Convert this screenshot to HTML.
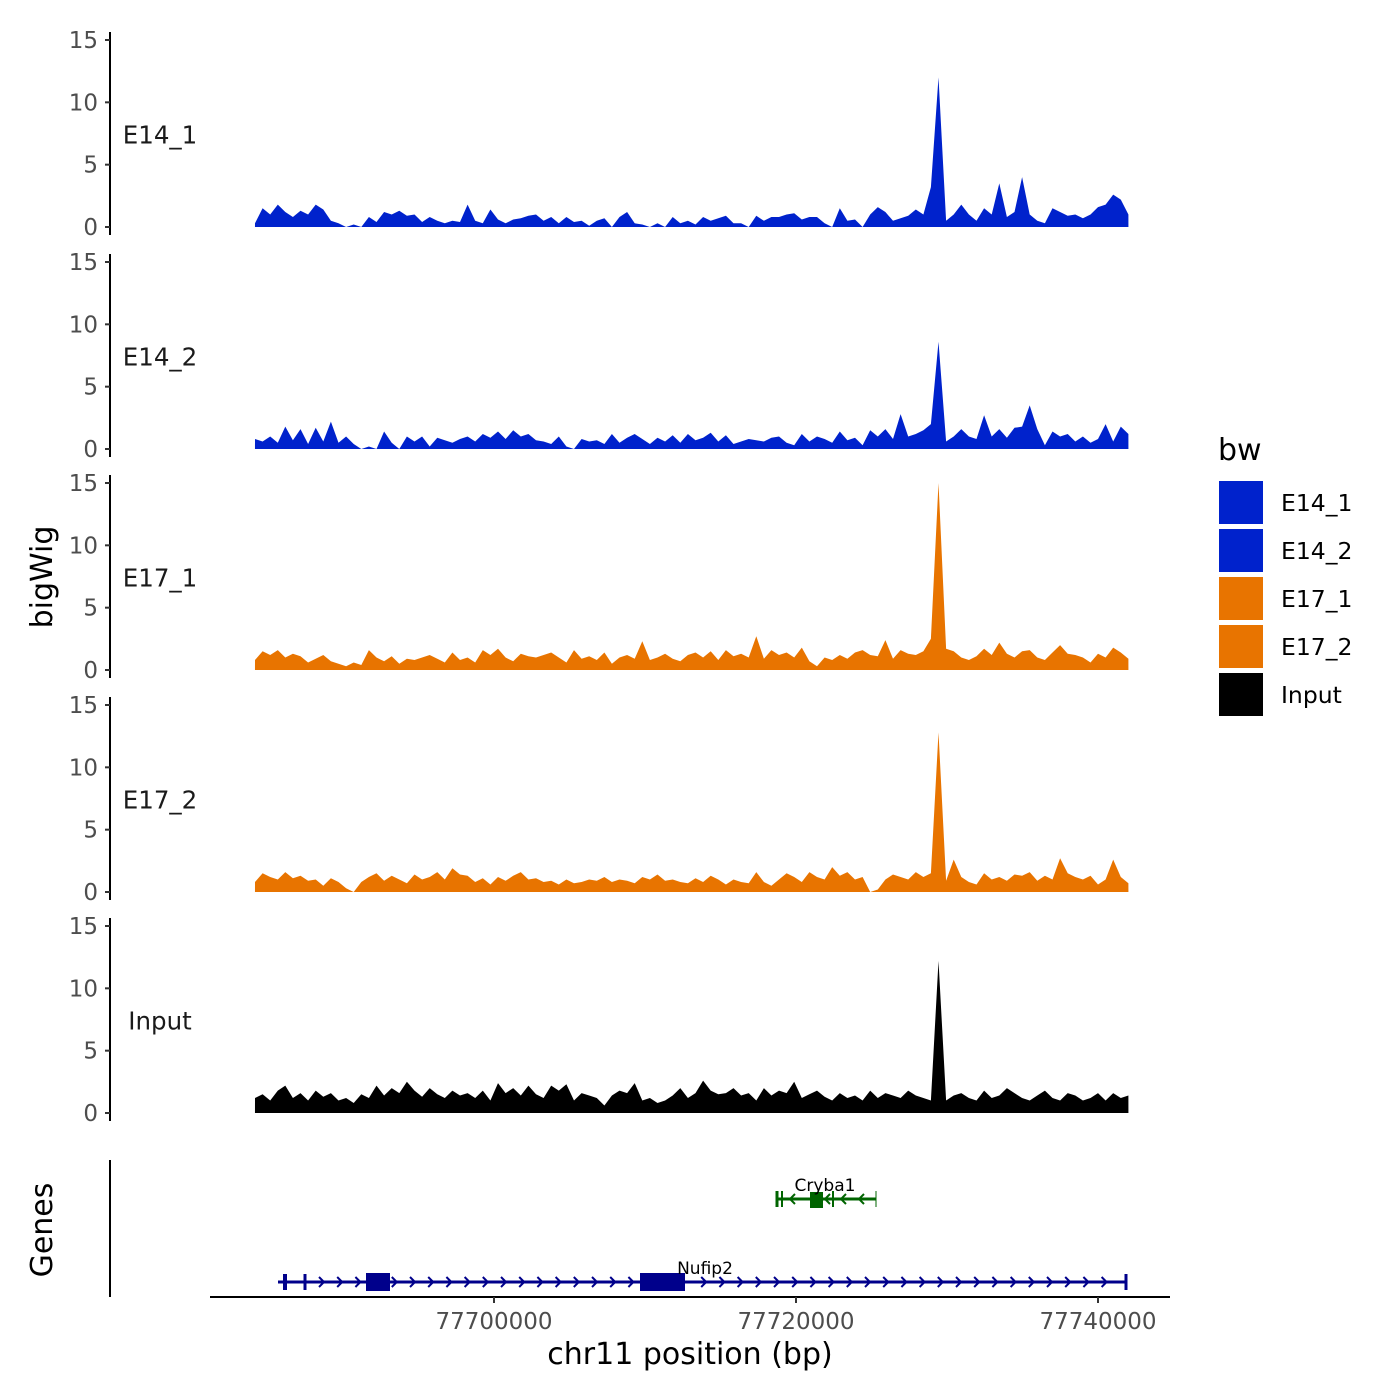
<!DOCTYPE html>
<html><head><meta charset="utf-8"><style>
body{margin:0;background:#fff}
svg{display:block;font-family:"DejaVu Sans","Liberation Sans",sans-serif}
</style></head><body>
<svg id="c" width="1400" height="1400" viewBox="0 0 1400 1400"></svg>
<script>
const trackNames=["E14_1","E14_2","E17_1","E17_2","Input"];
const trackColors=["#0022CC","#0022CC","#E87400","#E87400","#000000"];
const binStart=77684170, binSize=503;
const e14_1=[0.3,1.5,1.0,1.8,1.2,0.8,1.3,1.0,1.8,1.4,0.5,0.3,0,0.2,0,0.8,0.4,1.2,1.0,1.3,0.9,1.0,0.4,0.8,0.5,0.3,0.5,0.4,1.8,0.5,0.3,1.4,0.6,0.3,0.6,0.7,0.9,1.0,0.5,0.8,0.3,0.8,0.4,0.5,0.1,0.5,0.7,0,0.8,1.2,0.3,0.2,0,0.3,0,0.8,0.3,0.5,0.2,0.8,0.5,0.7,0.9,0.3,0.3,0,0.9,0.5,0.8,0.8,1.0,1.1,0.6,0.8,0.8,0.3,0,1.5,0.5,0.6,0,1.0,1.6,1.2,0.5,0.7,0.9,1.4,1.0,3.2,12,0.5,1.0,1.8,1.0,0.5,1.5,1.0,3.5,0.8,1.2,4.0,1.0,0.5,0.3,1.5,1.2,0.9,1.0,0.7,1.0,1.6,1.8,2.6,2.2,1.0];
const e14_2=[0.8,0.6,1.0,0.5,1.8,0.7,1.6,0.4,1.7,0.6,2.2,0.5,1.0,0.4,0,0.2,0,1.4,0.5,0,1.0,0.6,1.0,0.2,0.9,0.7,0.5,0.8,1.0,0.6,1.2,0.9,1.4,0.8,1.5,1.0,1.2,0.7,0.6,0.4,1.0,0.2,0,0.8,0.6,0.7,0.4,1.2,0.5,0.9,1.2,0.8,0.4,0.9,0.6,1.1,0.5,1.2,0.7,0.9,1.3,0.6,1.1,0.4,0.6,0.8,0.7,0.6,0.9,1.0,0.5,0.3,1.2,0.6,1.0,0.8,0.5,1.4,0.7,0.9,0.3,1.5,1.0,1.6,0.8,2.8,1.0,1.2,1.5,2.0,8.6,0.6,1.0,1.6,1.0,0.8,2.7,1.0,1.6,0.9,1.7,1.8,3.5,1.6,0.3,1.4,1.0,1.2,0.6,1.0,0.5,0.8,2.0,0.6,1.8,1.2];
const e17_1=[0.8,1.5,1.2,1.6,1.0,1.3,1.1,0.6,0.9,1.2,0.7,0.5,0.3,0.6,0.4,1.6,1.0,0.7,1.1,0.5,0.9,0.8,1.0,1.2,0.9,0.6,1.4,0.8,1.0,0.6,1.6,1.2,1.7,1.0,0.7,1.3,1.1,1.0,1.2,1.4,1.0,0.6,1.6,0.9,1.1,0.8,1.4,0.5,1.0,1.2,0.9,2.3,0.8,1.0,1.3,0.9,0.7,1.2,1.4,1.0,1.5,0.8,1.6,1.1,1.3,1.0,2.7,0.9,1.6,1.2,1.4,1.0,1.8,0.7,0.3,1.0,0.8,1.2,0.9,1.4,1.6,1.2,1.1,2.4,0.9,1.6,1.3,1.2,1.5,2.5,15,1.7,1.5,1.0,0.8,1.1,1.7,1.2,2.2,1.3,1.0,1.5,1.6,1.0,0.8,1.4,2.0,1.3,1.2,1.0,0.6,1.3,1.0,1.8,1.4,0.9];
const e17_2=[0.8,1.5,1.2,1.0,1.6,1.1,1.3,0.9,1.0,0.5,1.1,0.8,0.3,0,0.8,1.2,1.5,0.9,1.3,1.0,0.7,1.4,1.0,1.2,1.6,1.0,1.9,1.4,1.3,0.8,1.1,0.6,1.2,0.9,1.3,1.6,1.0,1.1,0.8,0.9,0.6,1.0,0.7,0.8,1.0,0.9,1.2,0.8,1.0,0.9,0.7,1.2,1.0,1.4,0.9,1.0,0.8,0.7,1.1,0.8,1.3,1.0,0.6,1.0,0.8,0.7,1.6,0.8,0.5,1.0,1.5,1.2,0.8,1.6,1.2,1.0,2.0,1.3,1.6,1.0,1.2,0,0.2,1.0,1.4,1.2,1.0,1.6,1.2,1.5,12.8,0.9,2.6,1.2,0.8,0.6,1.5,1.0,1.2,0.9,1.4,1.3,1.6,0.9,1.3,1.0,2.7,1.5,1.2,1.0,1.3,0.6,1.0,2.6,1.2,0.7];
const input=[1.2,1.5,1.0,1.8,2.2,1.2,1.6,1.0,1.8,1.3,1.6,1.0,1.2,0.8,1.5,1.2,2.2,1.4,2.0,1.6,2.5,1.8,1.3,2.0,1.5,1.2,1.8,1.4,1.6,1.2,1.8,1.0,2.4,1.6,2.0,1.4,2.2,1.5,1.2,2.2,1.8,2.3,1.0,1.6,1.4,1.2,0.6,1.4,1.8,1.6,2.4,1.0,1.2,0.8,1.0,1.4,2.0,1.2,1.6,2.6,1.8,1.5,1.6,2.0,1.4,1.6,1.0,2.0,1.4,1.8,1.6,2.5,1.2,1.5,1.8,1.3,1.0,1.6,1.2,1.4,1.0,1.8,1.2,1.6,1.4,1.2,1.8,1.4,1.2,1.0,12.2,1.0,1.4,1.6,1.2,1.0,1.8,1.2,1.4,2.0,1.6,1.2,1.0,1.4,1.8,1.2,1.0,1.6,1.4,1.0,1.2,1.6,1.0,1.6,1.2,1.4];
const trackData=[e14_1,e14_2,e17_1,e17_2,input];
const yTicks=[0,5,10,15];
const xTicks=[77700000,77720000,77740000];
const xTickLabels=["77700000","77720000","77740000"];
const baseY=[227,449,670,892,1113];

const NS="http://www.w3.org/2000/svg";
const svg=document.getElementById('c');
function mk(t,a,p){const e=document.createElementNS(NS,t);for(const k in a)e.setAttribute(k,a[k]);(p||svg).appendChild(e);return e;}
function xs(bp){return 494+(bp-77700000)*0.0151;}
function ys(t,v){return baseY[t]-v*(187/15);}

trackNames.forEach((nm,t)=>{
  const g=mk('g',{});
  
  
  const d=trackData[t];
  let pts=[];
  d.forEach((v,i)=>{pts.push(xs(binStart+i*binSize).toFixed(1)+','+ys(t,v).toFixed(1));});
  const x0=xs(binStart),x1=xs(binStart+(d.length-1)*binSize);
  const area=mk('polygon',{points:x0+','+baseY[t]+' '+pts.join(' ')+' '+x1+','+baseY[t],fill:trackColors[t]},g);
  
  
  const ax=mk('line',{x1:110,x2:110,y1:ys(t,15)-8,y2:baseY[t]+8,stroke:'#000','stroke-width':2},g);
  
  
  yTicks.forEach(v=>{
    const y=ys(t,v);
    mk('line',{x1:105,x2:110,y1:y,y2:y,stroke:'#333','stroke-width':2},g);
    const tx=mk('text',{x:98,y:y+8,'text-anchor':'end','font-size':23,fill:'#4d4d4d'},g);
    tx.textContent=v;
    
    
  });
  const lb=mk('text',{x:160,y:(ys(t,15)+baseY[t])/2+10,'text-anchor':'middle','font-size':24.5,fill:'#1a1a1a'},g);
  lb.textContent=nm;
  
  
});
</script>
<svg width="1400" height="1400" style="position:absolute;left:0;top:0" font-family="DejaVu Sans, Liberation Sans, sans-serif">
<text x="52" y="577" transform="rotate(-90 52 577)" text-anchor="middle" font-size="30" fill="#000">bigWig</text>
<text x="52" y="1230" transform="rotate(-90 52 1230)" text-anchor="middle" font-size="30" fill="#000">Genes</text>
<line x1="110" x2="110" y1="1160" y2="1297" stroke="#000" stroke-width="2"/>
<g stroke="#006400" fill="#006400">
<line x1="776" x2="876" y1="1199" y2="1199" stroke-width="3"/>
<rect x="810" y="1192" width="13" height="16" stroke="none"/>
<line x1="777" x2="777" y1="1191" y2="1207" stroke-width="3"/>
<line x1="782" x2="782" y1="1191" y2="1207" stroke-width="2"/>
<line x1="833" x2="833" y1="1191" y2="1207" stroke-width="2"/>
<line x1="876" x2="876" y1="1191" y2="1207" stroke-width="1"/>
<polyline points="795,1194 790,1199 795,1204" fill="none" stroke-width="2"/>
<polyline points="830,1194 825,1199 830,1204" fill="none" stroke-width="2"/>
<polyline points="846,1194 841,1199 846,1204" fill="none" stroke-width="2"/>
<polyline points="864,1194 859,1199 864,1204" fill="none" stroke-width="2"/>
<text x="825" y="1191" text-anchor="middle" font-size="17" fill="#000" stroke="none">Cryba1</text>
</g>
<g stroke="#00008B" fill="#00008B" id="nuf">
<line x1="278" x2="1127" y1="1282" y2="1282" stroke-width="3"/>
<rect x="366" y="1273" width="24" height="18" stroke="none"/>
<rect x="640" y="1273" width="45" height="18" stroke="none"/>
<line x1="285" x2="285" y1="1274" y2="1290" stroke-width="4"/>
<line x1="305" x2="305" y1="1274" y2="1290" stroke-width="3"/>
<line x1="1126" x2="1126" y1="1274" y2="1290" stroke-width="3"/>
<text x="705" y="1274" text-anchor="middle" font-size="17" fill="#000" stroke="none">Nufip2</text>
</g>
<line x1="210" x2="1170" y1="1297" y2="1297" stroke="#000" stroke-width="2"/>
<g id="xt"></g>
<text x="690" y="1364" text-anchor="middle" font-size="30" fill="#000">chr11 position (bp)</text>
<g>
<text x="1218" y="460" font-size="30" fill="#000">bw</text>
<rect x="1219" y="481" width="44" height="43" fill="#0022CC"/>
<rect x="1219" y="529" width="44" height="43" fill="#0022CC"/>
<rect x="1219" y="577" width="44" height="43" fill="#E87400"/>
<rect x="1219" y="625" width="44" height="43" fill="#E87400"/>
<rect x="1219" y="673" width="44" height="43" fill="#000"/>
<text x="1281" y="511" font-size="23.5">E14_1</text>
<text x="1281" y="559" font-size="23.5">E14_2</text>
<text x="1281" y="607" font-size="23.5">E17_1</text>
<text x="1281" y="655" font-size="23.5">E17_2</text>
<text x="1281" y="703" font-size="23.5">Input</text>
</g>
</svg>
<script>
(function(){
const NS="http://www.w3.org/2000/svg";
const g=document.getElementById('xt');
xTicks.forEach((bp,i)=>{
  const x=xs(bp);
  const l=document.createElementNS(NS,'line');
  l.setAttribute('x1',x);l.setAttribute('x2',x);l.setAttribute('y1',1297);l.setAttribute('y2',1303);
  l.setAttribute('stroke','#333');l.setAttribute('stroke-width',2);
  
  
  g.appendChild(l);
  const t=document.createElementNS(NS,'text');
  t.setAttribute('x',x);t.setAttribute('y',1329);t.setAttribute('text-anchor','middle');
  t.setAttribute('font-size',23);t.setAttribute('fill','#4d4d4d');
  t.textContent=xTickLabels[i];
  
  
  g.appendChild(t);
});
const n=document.getElementById('nuf');
for(let x=322;x<1120;x+=18.2){
  if((x>362&&x<394)||(x>636&&x<689))continue;
  const p=document.createElementNS(NS,'polyline');
  p.setAttribute('points',(x-3)+',1277 '+(x+2)+',1282 '+(x-3)+',1287');
  p.setAttribute('fill','none');p.setAttribute('stroke-width',2);
  
  
  n.appendChild(p);
}
})();
</script>
</body></html>
